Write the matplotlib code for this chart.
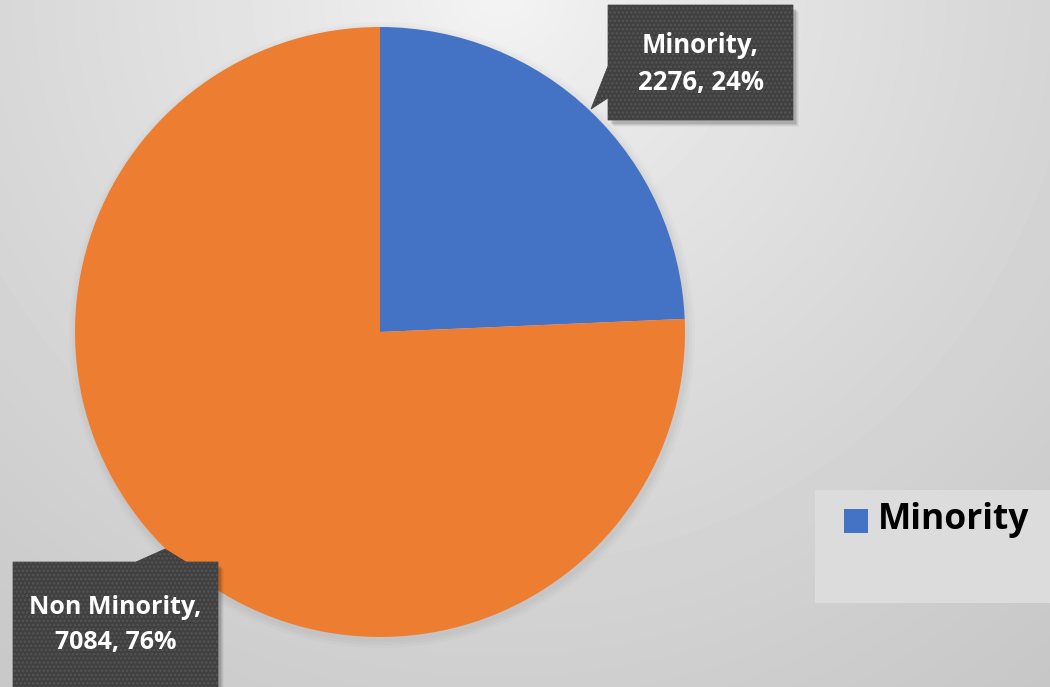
import matplotlib.pyplot as plt
import numpy as np
from matplotlib.patches import Polygon, Rectangle

# ---------------- data ----------------
groups = ["Minority", "Non Minority"]
counts = [2276, 7084]
colors = ["#4472C4", "#ED7D31"]

W, H = 1050, 687

plt.rcParams["font.family"] = ["Open Sans", "DejaVu Sans"]
plt.rcParams["hatch.linewidth"] = 1.2

fig = plt.figure(figsize=(W / 100, H / 100), dpi=100)

# background: soft radial grey gradient, lightest near the top middle
bg = fig.add_axes([0, 0, 1, 1])
yy, xx = np.mgrid[0:H, 0:W]
d = np.hypot(xx - 500, yy + 10) / 880.0
shade = np.clip(0.96 - 0.18 * d ** 0.8, 0.0, 1.0)
bg.imshow(shade, cmap="gray", vmin=0, vmax=1, extent=(0, W, 0, H), origin="upper",
          aspect="auto", zorder=0)
bg.set_xlim(0, W)
bg.set_ylim(0, H)
bg.axis("off")

# main drawing axes in pixel units (y up)
ax = fig.add_axes([0, 0, 1, 1])
ax.patch.set_alpha(0)

cx, cy, r = 380, H - 332, 305

# faint shadow around the pie
for k, a in enumerate([0.025, 0.02, 0.015]):
    ax.add_patch(plt.Circle((cx + 2, cy - 3), r + 2 + 3 * k, color="black", alpha=a,
                            lw=0, zorder=1))

ax.pie(counts, colors=colors, startangle=90, counterclock=False, center=(cx, cy),
       radius=r, wedgeprops=dict(linewidth=0, zorder=2), frame=True)

total = sum(counts)
labels = ["{},\n{}, {:.0f}%".format(g, c, 100 * c / total) for g, c in zip(groups, counts)]


def callout(x0, x1, ytop, ybot, tip, base, text, text_y, fontsize):
    """Dark dotted label box (pixel coords from the top) with a pointer."""
    # drop shadow
    for k, a in enumerate([0.10, 0.07, 0.05, 0.03]):
        ax.add_patch(Rectangle((x0 + 3 + k, H - ybot - 4 - k), x1 - x0, ybot - ytop,
                               facecolor="black", alpha=a, lw=0, zorder=3))
    if base[0][0] == x0:  # pointer on the left edge
        pts = [(x0, ytop), (x1, ytop), (x1, ybot), (x0, ybot),
               base[1], tip, base[0]]
    else:  # pointer on the top edge
        pts = [(x0, ytop), base[0], tip, base[1], (x1, ytop), (x1, ybot), (x0, ybot)]
    pts = [(px, H - py) for px, py in pts]
    ax.add_patch(Polygon(pts, closed=True, facecolor="#404040", edgecolor="#404040",
                         lw=0.5, zorder=4))
    ax.add_patch(Polygon(pts, closed=True, facecolor="none", edgecolor="#545454",
                         hatch="....", lw=0, zorder=4))
    ax.text((x0 + x1) / 2, H - text_y, text, color="white", fontsize=fontsize,
            fontweight="bold", ha="center", va="center", linespacing=1.5, zorder=5)


callout(608, 793, 5, 120, tip=(591, 109), base=[(608, 66), (608, 98)],
        text=labels[0], text_y=64, fontsize=18.5)
callout(13, 218, 562, 700, tip=(165, 549), base=[(136, 562), (186, 562)],
        text=labels[1], text_y=625, fontsize=18)

# legend panel (second entry runs off the canvas)
ax.add_patch(Rectangle((815, H - 603), 260, 113, facecolor="#dcdcdc", lw=0, zorder=3))
ax.add_patch(Rectangle((844, H - 533), 24, 24, facecolor=colors[0], lw=0, zorder=4))
ax.text(878, H - 520, groups[0], fontsize=25.5, fontweight="bold", color="black",
        ha="left", va="center", zorder=5)

ax.set_xlim(0, W)
ax.set_ylim(0, H)
ax.set_aspect("auto")
ax.axis("off")

fig.savefig("out.png", dpi=100)
